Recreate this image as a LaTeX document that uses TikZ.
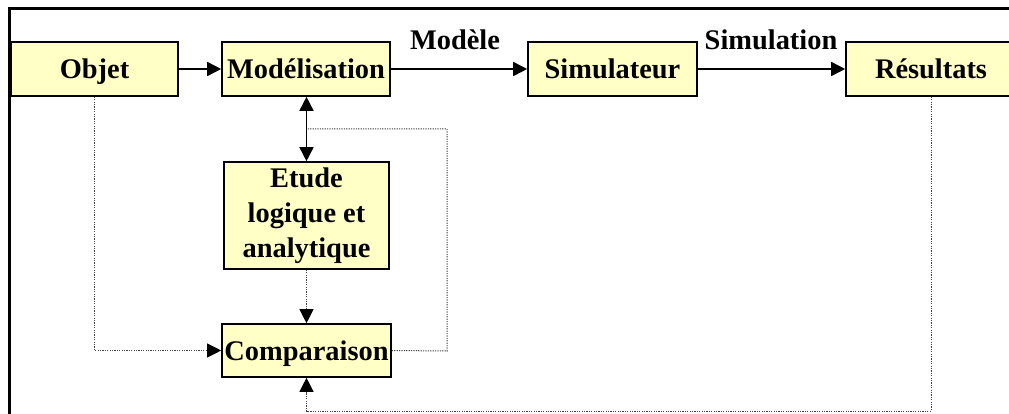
\documentclass[tikz,border=0pt]{standalone}
\usepackage{fontspec}
\setmainfont{Liberation Serif}
\usetikzlibrary{arrows.meta}
\definecolor{boxfill}{HTML}{FFFFC6}
\tikzset{
  box/.style={draw=black, line width=1.6pt, fill=boxfill, rectangle, inner sep=0pt,
    font=\fontsize{28.4}{35}\selectfont\bfseries, align=center},
  one/.style={text height=23pt, text depth=3pt},
  arr/.style={line width=1.6pt, -{Triangle[length=14pt,width=14pt]}},
  dotline/.style={line width=1pt, draw=black!75, dash pattern=on 1.2pt off 1.2pt},
  dotarr/.style={dotline, -{Triangle[length=14pt,width=14pt,black]}},
  lbl/.style={font=\fontsize{28.4}{35}\selectfont\bfseries, inner sep=0pt}
}
\begin{document}
\begin{tikzpicture}[x=1pt,y=-1pt]
\useasboundingbox (0,0) rectangle (1009,414);
\draw[line width=3pt] (9,430) -- (9,9) -- (1030,9);
\node[box, one, minimum width=167pt, minimum height=54pt] (obj) at (94.5,69) {Objet};
\node[box, one, minimum width=168pt, minimum height=54pt] (mod) at (306,69) {Modélisation};
\node[box, one, minimum width=169pt, minimum height=54pt] (sim) at (612.5,69) {Simulateur};
\node[box, one, minimum width=170pt, minimum height=54pt] (res) at (931,69) {Résultats};
\node[box, minimum width=165pt, minimum height=107pt] (etu) at (306.5,215.5) {\strut Etude\\logique et\\ analytique\strut};
\node[box, one, minimum width=169pt, minimum height=53pt] (com) at (306.5,350.5) {Comparaison};
\node[lbl] (lmod) at (455,40) {Modèle};
\node[lbl] (lsim) at (771,40) {Simulation};
\draw[arr] (obj) -- (mod);
\draw[arr] (mod) -- (sim);
\draw[arr] (sim) -- (res);
\draw[line width=1.6pt, {Triangle[length=14pt,width=14pt]}-{Triangle[length=14pt,width=14pt]}] (mod.south -| etu) -- (etu.north);
\coordinate (j1) at (306.5,129);
\coordinate (c1) at (447,129);
\coordinate (c2) at (447,351);
\draw[dotline] (com.east) -- (c2) -- (c1) -- (j1);
\draw[dotarr] (obj.south) |- (com.west);
\draw[dotarr] (etu.south) -- (com.north);
\coordinate (b1) at (931,411);
\coordinate (b2) at (306.5,411);
\draw[dotarr] (res.south) -- (b1) -- (b2) -- (com.south);
\end{tikzpicture}
\end{document}
